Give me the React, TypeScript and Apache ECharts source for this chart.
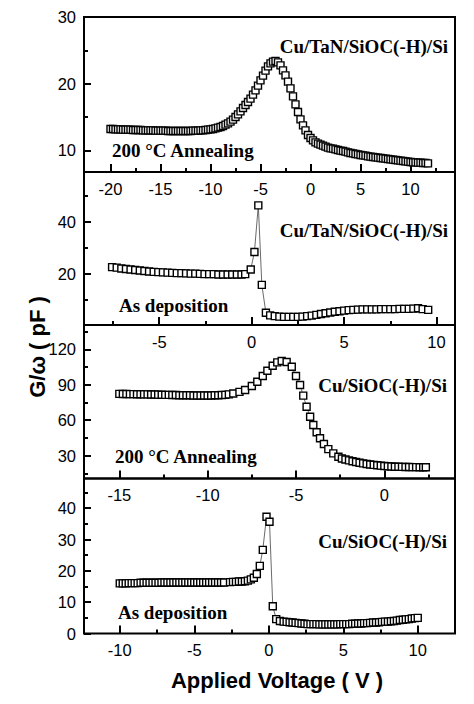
import React, { useEffect, useRef } from "react";
import * as echarts from "echarts";

// Panel 1: Cu/TaN/SiOC(-H)/Si, 200 °C annealing  [V, pF]
const p1Data: [number, number][] = [
  [-20, 13.2], [-19.75, 13.2], [-19.5, 13.15], [-19.25, 13.15], [-19, 13.15], [-18.75, 13.1], [-18.5, 13.1],
  [-18.25, 13.1], [-18, 13.1], [-17.75, 13.05], [-17.5, 13.05], [-17.25, 13.05], [-17, 13.05], [-16.75, 13],
  [-16.5, 13], [-16.25, 13], [-16, 13], [-15.75, 13], [-15.5, 12.95], [-15.25, 12.95], [-15, 12.95],
  [-14.75, 12.95], [-14.5, 12.95], [-14.25, 12.9], [-14, 12.9], [-13.75, 12.9], [-13.5, 12.9], [-13.25, 12.9],
  [-13, 12.9], [-12.75, 12.9], [-12.5, 12.9], [-12.25, 12.9], [-12, 12.9], [-11.75, 12.95], [-11.5, 12.95],
  [-11.25, 12.95], [-11, 13], [-10.75, 13], [-10.5, 13.05], [-10.25, 13.1], [-10, 13.15], [-9.75, 13.2],
  [-9.5, 13.3], [-9.25, 13.4], [-9, 13.5], [-8.75, 13.65], [-8.5, 13.85], [-8.25, 14.05], [-8, 14.3],
  [-7.75, 14.6], [-7.5, 15], [-7.25, 15.4], [-7, 15.85], [-6.75, 16.35], [-6.5, 16.8], [-6.25, 17.25],
  [-6, 17.75], [-5.75, 18.35], [-5.5, 19], [-5.25, 19.7], [-5, 20.5], [-4.75, 21.2], [-4.5, 21.95],
  [-4.25, 22.6], [-4, 23.05], [-3.75, 23.3], [-3.5, 23.4], [-3.25, 23.2], [-3, 22.75], [-2.75, 22],
  [-2.5, 21.25], [-2.25, 20.3], [-2, 19.3], [-1.75, 18.1], [-1.5, 16.9], [-1.25, 15.75], [-1, 14.65],
  [-0.75, 13.75], [-0.5, 13], [-0.25, 12.3], [0, 11.85], [0.25, 11.5], [0.5, 11.2], [0.75, 11],
  [1, 10.85], [1.25, 10.7], [1.5, 10.55], [1.75, 10.4], [2, 10.3], [2.25, 10.25], [2.5, 10.15],
  [2.75, 10.05], [3, 9.95], [3.25, 9.9], [3.5, 9.8], [3.75, 9.7], [4, 9.6], [4.25, 9.55], [4.5, 9.45],
  [4.75, 9.4], [5, 9.3], [5.25, 9.25], [5.5, 9.2], [5.75, 9.1], [6, 9.05], [6.25, 9], [6.5, 8.95],
  [6.75, 8.9], [7, 8.85], [7.25, 8.8], [7.5, 8.75], [7.75, 8.7], [8, 8.65], [8.25, 8.6], [8.5, 8.55],
  [8.75, 8.5], [9, 8.45], [9.25, 8.4], [9.5, 8.35], [9.75, 8.3], [10, 8.25], [10.25, 8.2], [10.5, 8.2],
  [10.75, 8.15], [11, 8.15], [11.25, 8.1], [11.5, 8.1], [11.75, 8.05],
];

// Panel 2: Cu/TaN/SiOC(-H)/Si, as deposition
const p2Data: [number, number][] = [
  [-7.55, 22.7], [-7.3, 22.5], [-7.05, 22.2], [-6.8, 22], [-6.55, 21.8], [-6.3, 21.6], [-6.05, 21.4],
  [-5.8, 21.2], [-5.55, 21], [-5.3, 20.9], [-5.05, 20.8], [-4.8, 20.7], [-4.55, 20.6], [-4.3, 20.5],
  [-4.05, 20.4], [-3.8, 20.4], [-3.55, 20.3], [-3.3, 20.2], [-3.05, 20.2], [-2.8, 20.1], [-2.55, 20],
  [-2.3, 20], [-2.05, 20], [-1.8, 19.9], [-1.55, 19.9], [-1.3, 19.9], [-1.05, 19.9], [-0.8, 19.9],
  [-0.55, 19.9], [-0.35, 20], [-0.05, 21.8], [0.15, 28.5], [0.36, 46.4], [0.55, 15.9], [0.77, 5.2],
  [1, 4.2], [1.25, 3.9], [1.5, 3.7], [1.75, 3.6], [2, 3.6], [2.25, 3.6], [2.5, 3.6], [2.75, 3.7],
  [3, 3.9], [3.25, 4.1], [3.5, 4.4], [3.75, 4.7], [4, 5], [4.25, 5.3], [4.5, 5.6], [4.75, 5.8],
  [5, 6], [5.25, 6.2], [5.5, 6.3], [5.75, 6.4], [6, 6.5], [6.25, 6.5], [6.5, 6.5], [6.75, 6.5],
  [7, 6.6], [7.25, 6.6], [7.5, 6.6], [7.75, 6.6], [8, 6.7], [8.25, 6.7], [8.5, 6.7], [8.75, 6.8],
  [9, 6.9], [9.25, 6.6], [9.55, 6.3],
];

// Panel 3: Cu/SiOC(-H)/Si, 200 °C annealing
const p3Data: [number, number][] = [
  [-15, 82.3], [-14.8, 82.2], [-14.6, 82.2], [-14.4, 82.1], [-14.2, 82.1], [-14, 82], [-13.8, 82],
  [-13.6, 81.9], [-13.4, 81.9], [-13.2, 81.8], [-13, 81.8], [-12.8, 81.7], [-12.6, 81.6], [-12.4, 81.5],
  [-12.2, 81.5], [-12, 81.4], [-11.8, 81.3], [-11.6, 81.2], [-11.4, 81.2], [-11.2, 81.1], [-11, 81.1],
  [-10.8, 81], [-10.6, 81], [-10.4, 81], [-10.2, 81], [-10, 81], [-9.8, 81], [-9.6, 81.1], [-9.4, 81.2],
  [-9.2, 81.3], [-9, 81.5], [-8.8, 81.9], [-8.55, 82.6], [-8.2, 84], [-7.88, 85.6], [-7.5, 89],
  [-7.19, 92.6], [-6.88, 97.4], [-6.62, 101.9], [-6.32, 106.1], [-6.06, 109], [-5.81, 110.1],
  [-5.53, 109.3], [-5.24, 105.3], [-5, 97.4], [-4.77, 89.8], [-4.59, 80.8], [-4.4, 71.4], [-4.2, 63],
  [-4.02, 56], [-3.83, 49.8], [-3.64, 44.7], [-3.42, 39.9], [-3.17, 35.6], [-2.89, 32], [-2.6, 29.1],
  [-2.4, 27.6], [-2.2, 26.8], [-2, 26], [-1.8, 25.3], [-1.6, 24.7], [-1.4, 24], [-1.2, 23.5], [-1, 23],
  [-0.8, 22.6], [-0.6, 22.2], [-0.4, 21.9], [-0.2, 21.6], [0, 21.3], [0.2, 21.1], [0.4, 20.9],
  [0.6, 20.7], [0.8, 20.6], [1, 20.5], [1.2, 20.4], [1.4, 20.4], [1.6, 20.3], [1.8, 20.3], [2, 20.2],
  [2.2, 20.2], [2.35, 20.2],
];

// Panel 4: Cu/SiOC(-H)/Si, as deposition
const p4Data: [number, number][] = [
  [-10, 16], [-9.8, 16], [-9.6, 16], [-9.4, 16.1], [-9.2, 16.1], [-9, 16.1], [-8.8, 16.1], [-8.6, 16.2],
  [-8.4, 16.2], [-8.2, 16.2], [-8, 16.2], [-7.8, 16.2], [-7.6, 16.2], [-7.4, 16.2], [-7.2, 16.3],
  [-7, 16.3], [-6.8, 16.3], [-6.6, 16.3], [-6.4, 16.3], [-6.2, 16.3], [-6, 16.3], [-5.8, 16.3],
  [-5.6, 16.3], [-5.4, 16.3], [-5.2, 16.3], [-5, 16.3], [-4.8, 16.3], [-4.6, 16.3], [-4.4, 16.3],
  [-4.2, 16.3], [-4, 16.3], [-3.8, 16.3], [-3.6, 16.3], [-3.4, 16.3], [-3.2, 16.3], [-3, 16.3],
  [-2.6, 16.4], [-2.4, 16.5], [-2.2, 16.5], [-2, 16.6], [-1.8, 16.6], [-1.6, 16.7], [-1.4, 16.9],
  [-1.2, 17.3], [-1, 17.8], [-0.8, 19], [-0.6, 21.6], [-0.4, 26.7], [-0.15, 37.3], [0.05, 35.7],
  [0.27, 8.7], [0.5, 4.6], [0.75, 4], [1, 3.8], [1.2, 3.7], [1.4, 3.6], [1.6, 3.5], [1.8, 3.4],
  [2, 3.3], [2.2, 3.2], [2.4, 3.1], [2.6, 3], [2.8, 3], [3, 3], [3.2, 3], [3.4, 2.9], [3.6, 2.9],
  [3.8, 2.9], [4, 2.9], [4.2, 2.9], [4.4, 2.9], [4.6, 2.9], [4.8, 3], [5, 3], [5.2, 3], [5.4, 3],
  [5.6, 3.1], [5.8, 3.1], [6, 3.2], [6.2, 3.2], [6.4, 3.3], [6.6, 3.3], [6.8, 3.4], [7, 3.5],
  [7.2, 3.5], [7.4, 3.6], [7.6, 3.7], [7.8, 3.8], [8, 3.8], [8.2, 3.9], [8.4, 4], [8.6, 4.1],
  [8.8, 4.3], [9, 4.4], [9.2, 4.5], [9.4, 4.6], [9.6, 4.8], [9.8, 4.9], [10, 5],
];

// Tick values (major = labelled, minor = unlabelled)
const p1XTicks = [-20, -15, -10, -5, 0, 5, 10];
const p1XMinor = [-17.5, -12.5, -7.5, -2.5, 2.5, 7.5, 12.5];
const p1YTicks = [10, 20, 30];
const p1YMinor = [15, 25];
const p2XTicks = [-5, 0, 5, 10];
const p2XMinor = [-7.5, -2.5, 2.5, 7.5];
const p2YTicks = [20, 40];
const p2YMinor = [10, 30, 50];
const p3XTicks = [-15, -10, -5, 0];
const p3XMinor = [-12.5, -7.5, -2.5, 2.5];
const p3YTicks = [30, 60, 90, 120];
const p3YMinor = [15, 45, 75, 105, 135];
const p4XTicks = [-10, -5, 0, 5, 10];
const p4XMinor = [-7.5, -2.5, 2.5, 7.5];
const p4YTicks = [0, 10, 20, 30, 40];
const p4YMinor = [5, 15, 25, 35, 45];

// Axis ranges
const p1XRange = [-22.65, 14.45];
const p1YRange = [6.75, 30];
const p2XRange = [-9.07, 11.0];
const p2YRange = [0.5, 59.2];
const p3XRange = [-17.0, 4.0];
const p3YRange = [10.7, 140.6];
const p4XRange = [-12.4, 12.5];
const p4YRange = [0, 49.5];

const sampleNames = ["Cu/TaN/SiOC(-H)/Si", "Cu/TaN/SiOC(-H)/Si", "Cu/SiOC(-H)/Si", "Cu/SiOC(-H)/Si"];
const conditions = ["200 °C Annealing", "As deposition", "200 °C Annealing", "As deposition"];
const yTitle = "G/ω ( pF )";
const xTitle = "Applied Voltage ( V )";

export default function App() {
  const ref = useRef<HTMLDivElement>(null);
  useEffect(() => {
    if (!ref.current) return;
    const chart = echarts.init(ref.current, undefined, { renderer: "svg" });
    const panels = [
      { data: p1Data, xr: p1XRange, yr: p1YRange, xt: p1XTicks, xm: p1XMinor, yt: p1YTicks, ym: p1YMinor, top: 17, height: 155 },
      { data: p2Data, xr: p2XRange, yr: p2YRange, xt: p2XTicks, xm: p2XMinor, yt: p2YTicks, ym: p2YMinor, top: 172, height: 153 },
      { data: p3Data, xr: p3XRange, yr: p3YRange, xt: p3XTicks, xm: p3XMinor, yt: p3YTicks, ym: p3YMinor, top: 325, height: 153.5 },
      { data: p4Data, xr: p4XRange, yr: p4YRange, xt: p4XTicks, xm: p4XMinor, yt: p4YTicks, ym: p4YMinor, top: 478.5, height: 155 },
    ];
    const tickLine = { color: "#000", width: 2 };
    const labelFont = { fontFamily: "Liberation Sans", fontSize: 16.5, color: "#000" };
    const grids: any[] = [];
    const xAxes: any[] = [];
    const yAxes: any[] = [];
    const series: any[] = [];
    panels.forEach((p, i) => {
      grids.push({
        left: 84, width: 371, top: p.top, height: p.height, show: true,
        borderColor: "#000", borderWidth: 2, backgroundColor: "transparent", outerBoundsMode: "none",
      });
      xAxes.push({
        type: "value", gridIndex: i, position: "bottom", min: p.xr[0], max: p.xr[1],
        axisLine: { show: false, onZero: false }, splitLine: { show: false },
        axisTick: { show: true, inside: true, length: 8, customValues: p.xt, lineStyle: tickLine },
        axisLabel: { show: true, customValues: p.xt, margin: 8, ...labelFont },
      });
      xAxes.push({
        type: "value", gridIndex: i, position: "bottom", min: p.xr[0], max: p.xr[1],
        axisLine: { show: false, onZero: false }, splitLine: { show: false },
        axisTick: { show: true, inside: true, length: 4, customValues: p.xm, lineStyle: tickLine },
        axisLabel: { show: false },
      });
      yAxes.push({
        type: "value", gridIndex: i, position: "left", min: p.yr[0], max: p.yr[1],
        axisLine: { show: false, onZero: false }, splitLine: { show: false },
        axisTick: { show: true, inside: true, length: 7, customValues: p.yt, lineStyle: tickLine },
        axisLabel: { show: true, customValues: p.yt, margin: 8, ...labelFont },
      });
      yAxes.push({
        type: "value", gridIndex: i, position: "left", min: p.yr[0], max: p.yr[1],
        axisLine: { show: false, onZero: false }, splitLine: { show: false },
        axisTick: { show: true, inside: true, length: 4, customValues: p.ym, lineStyle: tickLine },
        axisLabel: { show: false },
      });
      series.push({
        type: "line", xAxisIndex: 2 * i, yAxisIndex: 2 * i, data: p.data,
        symbol: "rect", symbolSize: 7, showAllSymbol: true, silent: true,
        lineStyle: { color: "#444", width: 0.8 },
        itemStyle: { color: "#fff", borderColor: "#000", borderWidth: 1.4 },
        emphasis: { disabled: true },
      });
    });

    const serif = { fontFamily: "Liberation Serif", fontWeight: "bold", fontSize: 19, fill: "#000" };
    const namePos = [
      { x: 448, y: 46 }, { x: 448, y: 230 }, { x: 447, y: 385.5 }, { x: 447, y: 541 },
    ];
    const condPos = [
      { x: 112, y: 150 }, { x: 119, y: 305.5 }, { x: 115, y: 456.5 }, { x: 118, y: 612 },
    ];
    const graphics: any[] = [];
    sampleNames.forEach((t, i) => {
      graphics.push({
        type: "text", x: namePos[i].x, y: namePos[i].y, silent: true,
        style: { text: t, align: "right", verticalAlign: "middle", ...serif },
      });
    });
    conditions.forEach((t, i) => {
      graphics.push({
        type: "text", x: condPos[i].x, y: condPos[i].y, silent: true,
        style: { text: t, align: "left", verticalAlign: "middle", ...serif },
      });
    });
    graphics.push({
      type: "text", x: 37, y: 347, rotation: Math.PI / 2, silent: true,
      style: { text: yTitle, align: "center", verticalAlign: "middle", fontFamily: "Liberation Sans", fontWeight: "bold", fontSize: 22, fill: "#000" },
    });
    graphics.push({
      type: "text", x: 277, y: 680, silent: true,
      style: { text: xTitle, align: "center", verticalAlign: "middle", fontFamily: "Liberation Sans", fontWeight: "bold", fontSize: 22, fill: "#000" },
    });

    chart.setOption({
      animation: false,
      backgroundColor: "#fff",
      grid: grids,
      xAxis: xAxes,
      yAxis: yAxes,
      series,
      graphic: graphics,
    });
    return () => chart.dispose();
  }, []);
  return <div ref={ref} style={{ position: "absolute", left: 0, top: 0, width: 474, height: 704 }} />;
}
